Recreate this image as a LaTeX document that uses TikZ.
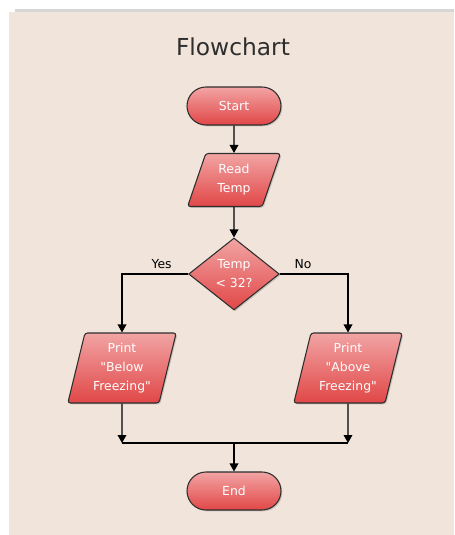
\documentclass[tikz,border=0pt]{standalone}
\usepackage{fontspec}
\setmainfont{DejaVu Sans}[Ligatures=TeXOff]
\usetikzlibrary{shapes.geometric,shapes.misc,shadows,arrows.meta}
\definecolor{paper}{HTML}{F1E5DB}
\definecolor{rimgray}{HTML}{D6D6D6}
\definecolor{boxtop}{HTML}{F2A4A4}
\definecolor{boxmid}{HTML}{EE7E7E}
\definecolor{boxbot}{HTML}{E14747}
\definecolor{boxline}{HTML}{2E2E2E}
\tikzset{
  boxbase/.style={draw=boxline, line width=.8pt, top color=boxtop, middle color=boxmid,
    bottom color=boxbot, text=white, align=center, inner sep=0pt,
    font=\fontsize{9.3}{14.2}\selectfont,
    drop shadow={shadow xshift=1pt, shadow yshift=-1pt, opacity=.35}},
  terminal/.style={boxbase, rounded rectangle, minimum width=70.5pt, minimum height=28.5pt},
  inout/.style={boxbase, trapezium, trapezium stretches=true, rounded corners=2pt,
    minimum width=#1},
  decide/.style={boxbase, diamond, minimum width=68pt, minimum height=54pt},
  flow/.style={line width=1pt, -{Triangle[length=6pt,width=6.5pt]}},
  branch/.style={font=\fontsize{9.3}{10}\selectfont, above}
}
\begin{document}
\begin{tikzpicture}[x=.75pt, y=-.75pt]
		\useasboundingbox (0,0) rectangle (454,535);
		%=========== panel and title ===========================
		\fill[rimgray] (15,9) rectangle (454,12);
		\fill[paper] (9,12) rectangle (454,535);
		\node (title) at (233,47) {\fontsize{17.5}{20}\selectfont\color[HTML]{2E2E2E}Flowchart};
		%=========== shapes, from top to bottom ===========================
		\node[terminal] (start) at (234,106) {Start};
		\node[inout=69.75pt, minimum height=39.75pt, trapezium left angle=71, trapezium right angle=109] (read) at (234,180) {Read\\Temp};
		\node[decide] (test) at (234,274) {Temp\\< 32?};
		\node[inout=81.75pt, minimum height=52.5pt, trapezium left angle=75, trapezium right angle=105] (below) at (122,368) {Print\\"Below\\Freezing"};
		\node[inout=81.75pt, minimum height=52.5pt, trapezium left angle=75, trapezium right angle=105] (above) at (348,368) {Print\\"Above\\Freezing"};
		\node[terminal] (stop) at (234,491) {End};
		%=========== connectors ===========================
		\coordinate (joinL) at (122,443);
		\coordinate (joinR) at (348,443);
		\coordinate (joinM) at (234,443);
		\draw[flow] (start) -- (read);
		\draw[flow] (read) -- (test);
		\draw[flow] (test.west) -| node[branch, pos=.2] {Yes} (below.north);
		\draw[flow] (test.east) -| node[branch, pos=.17] {No} (above.north);
		\draw[flow] (below.south) -- (joinL);
		\draw[flow] (above.south) -- (joinR);
		\draw[line width=1pt] (joinL) -- (joinR);
		\draw[flow] (joinM) -- (stop);
	\end{tikzpicture}
\end{document}
